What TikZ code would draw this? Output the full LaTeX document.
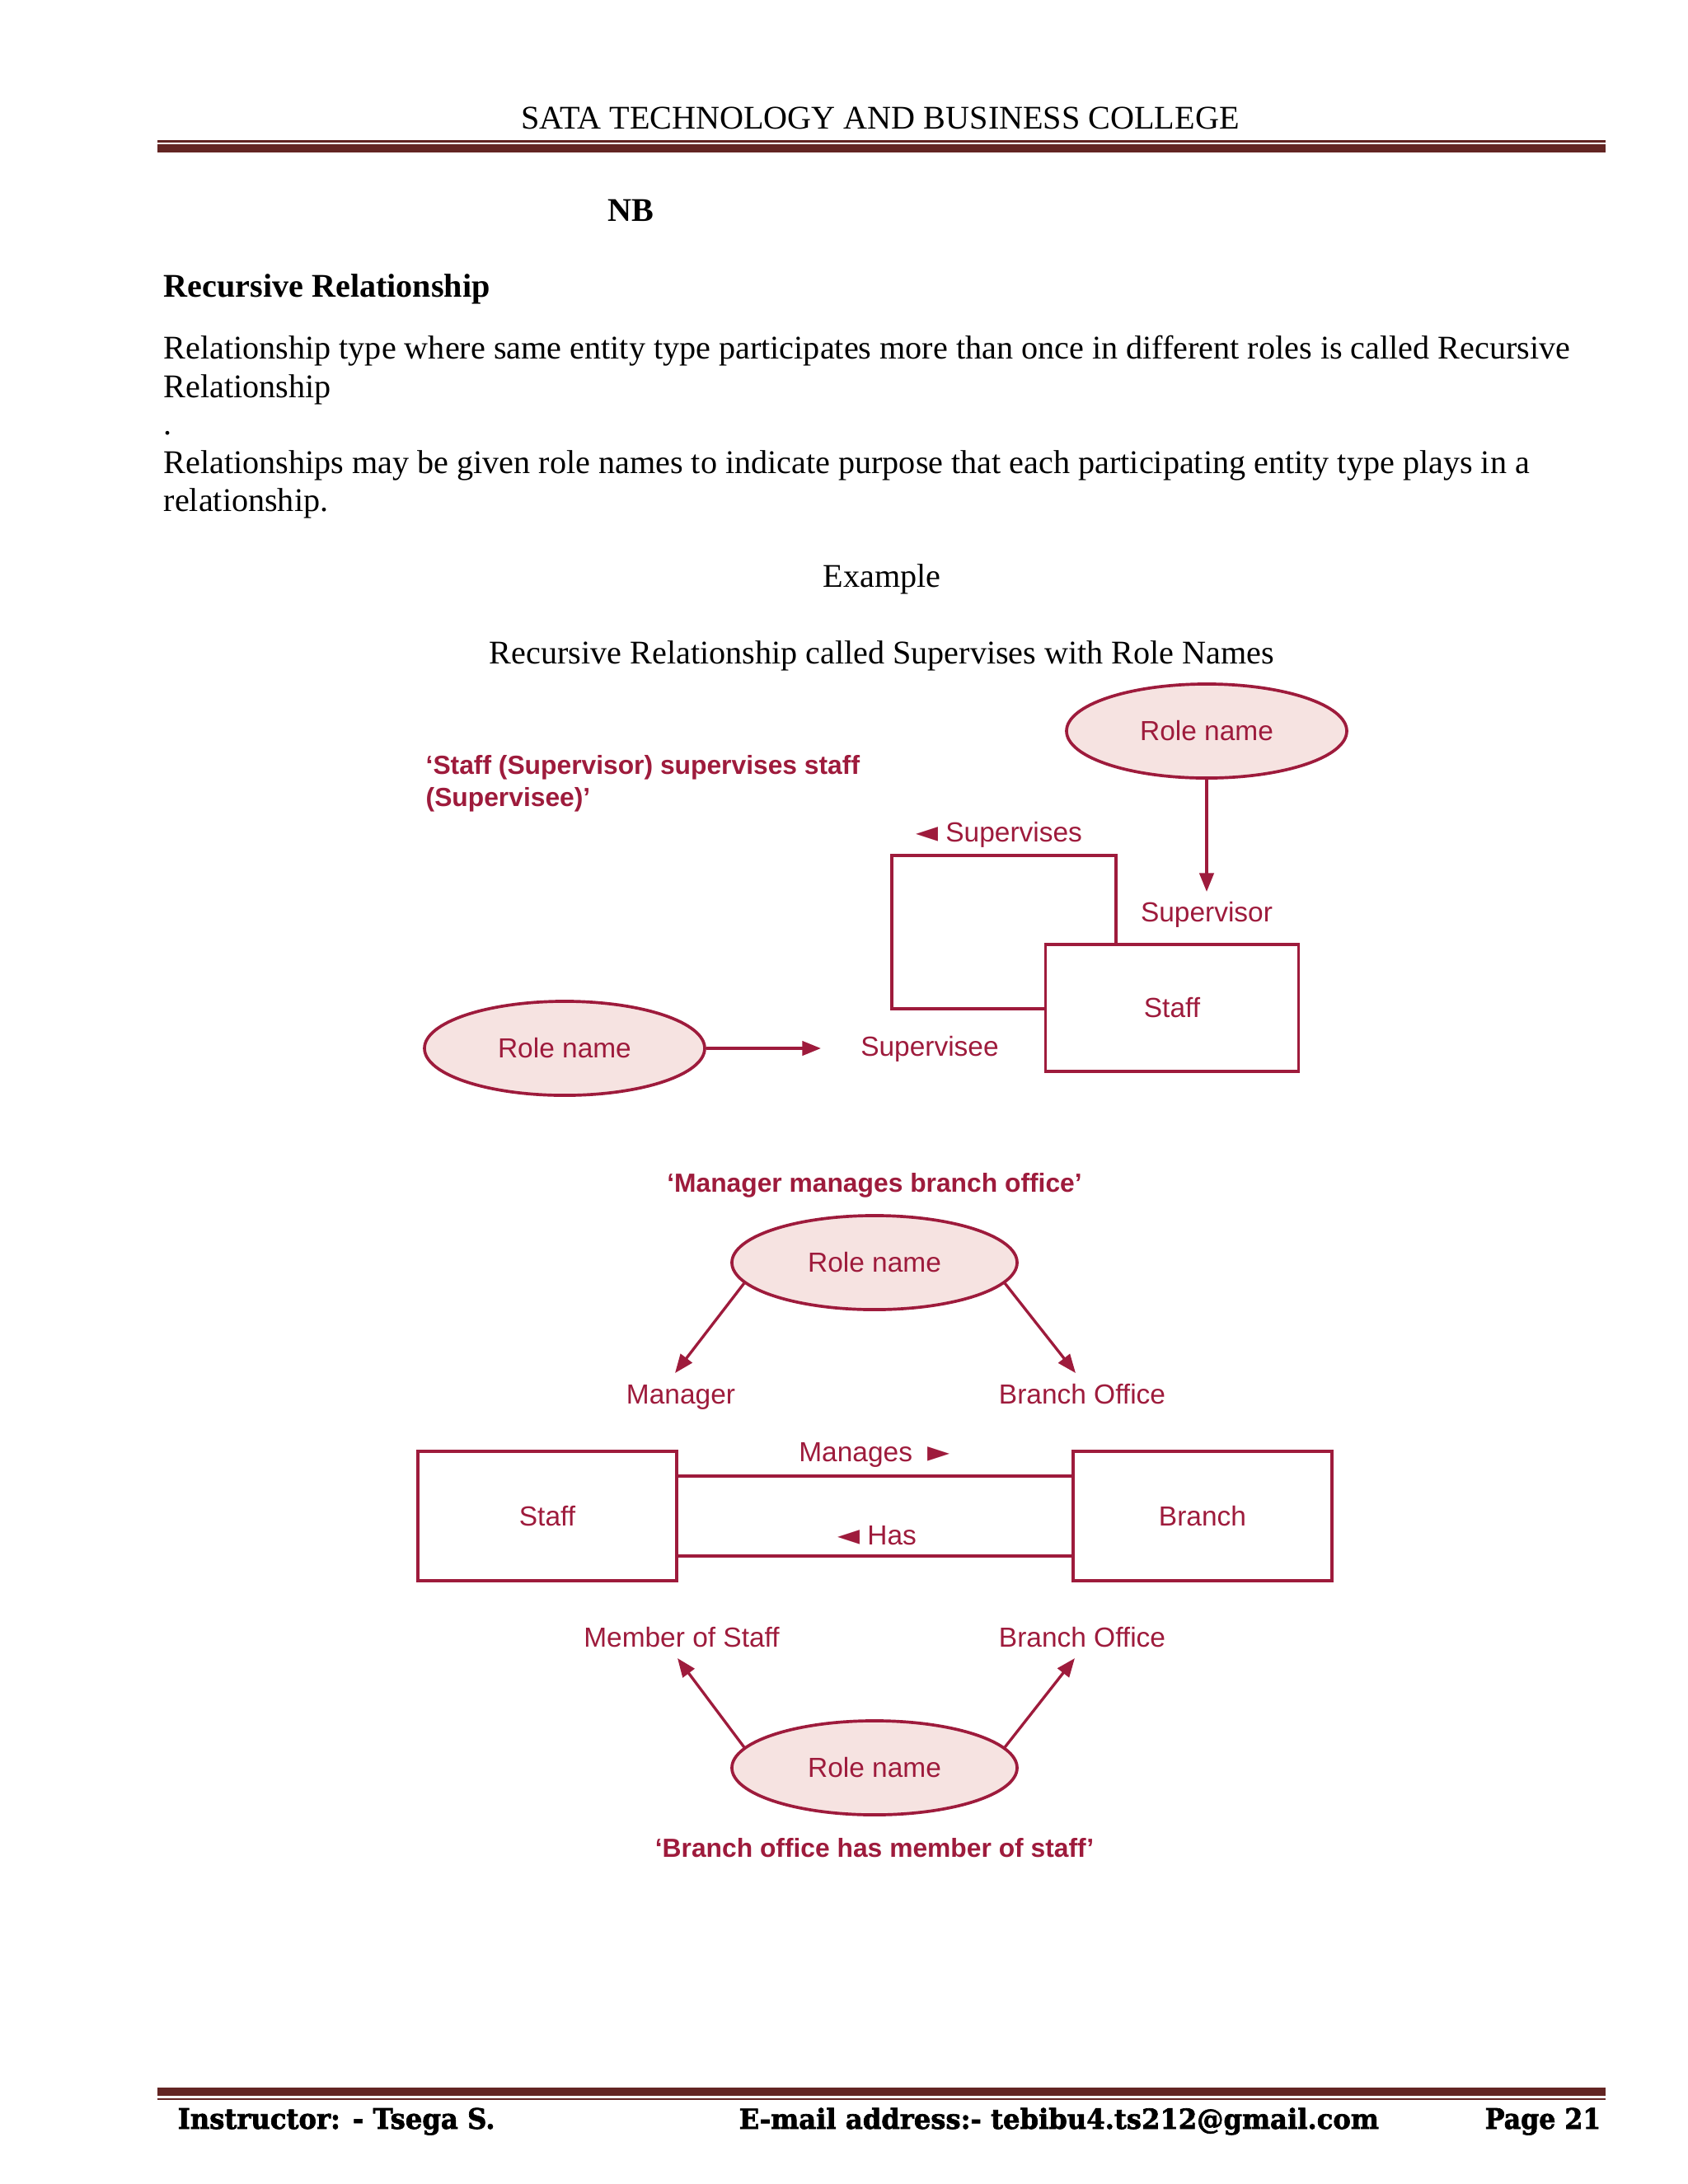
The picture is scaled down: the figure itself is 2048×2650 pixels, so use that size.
\documentclass[tikz,border=0pt]{standalone}
\usepackage{fontspec}
\setmainfont{Liberation Serif}
\newfontfamily\dsans{Liberation Sans}
\newfontfamily\dvs{DejaVu Sans}
\newfontfamily\footfont{DejaVu Serif}[FakeBold=2]
\usetikzlibrary{shapes.geometric,arrows.meta}
\definecolor{crim}{HTML}{9E1B3C}
\definecolor{rolefill}{HTML}{F6E3E1}
\definecolor{rulec}{HTML}{632523}
\newcommand{\lt}{{\dvs\fontsize{10.5}{12}\selectfont ◄}}
\newcommand{\rt}{{\dvs\fontsize{10.5}{12}\selectfont ►}}
\begin{document}
\begin{tikzpicture}[x=0.29883pt,y=-0.29883pt,
  body/.style={inner sep=0,anchor=base west,font=\fontsize{12}{14}\selectfont},
  bodyc/.style={inner sep=0,anchor=base,font=\fontsize{12}{14}\selectfont},
  rolename/.style={ellipse,draw=crim,fill=rolefill,line width=1.1pt,minimum width=101.6pt,minimum height=34.1pt,inner sep=0,font=\dsans\fontsize{10}{12}\selectfont,text=crim},
  entity/.style={rectangle,draw=crim,line width=1pt,inner sep=0,font=\dsans\fontsize{10}{12}\selectfont,text=crim},
  lab/.style={inner sep=0,anchor=base,font=\dsans\fontsize{10}{12}\selectfont,text=crim},
  capt/.style={inner sep=0,font=\dsans\bfseries\fontsize{9.5}{12}\selectfont,text=crim},
  arr/.style={draw=crim,line width=1pt,-{Triangle[length=6.8pt,width=5.2pt]}},
  relline/.style={draw=crim,line width=1pt},
  foot/.style={inner sep=0,font=\footfont\bfseries}
]
\useasboundingbox (0,0) rectangle (2048,2650);
\fill[white] (0,0) rectangle (2048,2650);

% header
\node[bodyc] (hdr) at (1068,156) {SATA TECHNOLOGY AND BUSINESS COLLEGE};
\fill[rulec] (191,170) rectangle (1948,172.5);
\fill[rulec] (191,175) rectangle (1948,185);

% body text
\node[bodyc,font=\bfseries\fontsize{12}{14}\selectfont] (nb) at (765,268) {NB};
\node[body,font=\bfseries\fontsize{12}{14}\selectfont] (title) at (198,360) {Recursive Relationship};
\node[body] (p1) at (198,435) {Relationship type where same entity type participates more than once in different roles is called Recursive};
\node[body] (p2) at (198,482) {Relationship};
\node[body] (p3) at (198,527) {.};
\node[body] (p4) at (198,574) {Relationships may be given role names to indicate purpose that each participating entity type plays in a};
\node[body] (p5) at (198,620) {relationship.};
\node[bodyc] (ex) at (1070,712) {Example};
\node[bodyc] (cap0) at (1070,805) {Recursive Relationship called Supervises with Role Names};

% ---------- diagram 1 ----------
\node[capt,anchor=base west] (c1a) at (516,939) {‘Staff (Supervisor) supervises staff};
\node[capt,anchor=base west] (c1b) at (516,978) {(Supervisee)’};
\node[rolename] (e1) at (1464,887) {Role name};
\coordinate (supTip) at (1464,1082);
\draw[arr] (e1.south) -- (supTip);
\node[lab] (supvr) at (1464,1118) {Supervisor};
\node[entity,minimum width=91.7pt,minimum height=46pt] (st1) at (1422,1223) {Staff};
\node[lab] (supvs) at (1212,1021) {\lt\ Supervises};
\coordinate (lr) at (1354,1038);
\coordinate (ll) at (1082,1224);
\draw[relline] (st1.north -| lr) -- (lr) -| (ll) -- (st1.west |- ll);
\node[rolename] (e3) at (685,1272) {Role name};
\coordinate (sveTip) at (996,1272);
\draw[arr] (e3.east) -- (sveTip);
\node[lab] (svee) at (1128,1281) {Supervisee};

% ---------- diagram 2 ----------
\node[capt,anchor=base] (c2) at (1061,1446) {‘Manager manages branch office’};
\node[rolename,minimum width=103.4pt] (e2) at (1061,1532) {Role name};
\coordinate (mgrTip) at (819,1666);
\coordinate (boTip) at (1305,1666);
\draw[arr] (e2.189) -- (mgrTip);
\draw[arr] (e2.351) -- (boTip);
\node[lab] (mgr) at (826,1703) {Manager};
\node[lab] (bo1) at (1313,1703) {Branch Office};

\node[entity,minimum width=93.8pt,minimum height=46.9pt] (st2) at (664,1839.5) {Staff};
\node[entity,minimum width=93.8pt,minimum height=46.9pt] (br) at (1459,1839.5) {Branch};
\coordinate (ya) at (0,1791);
\coordinate (yb) at (0,1888);
\draw[relline] (st2.east |- ya) -- (br.west |- ya);
\draw[relline] (st2.east |- yb) -- (br.west |- yb);
\node[lab] (mgs) at (1061,1773) {Manages\ \ \rt};
\node[lab] (has) at (1064,1874) {\lt\ Has};

\node[lab] (mos) at (827,1998) {Member of Staff};
\node[lab] (bo2) at (1313,1998) {Branch Office};
\node[rolename,minimum width=103.4pt] (e4) at (1061,2145) {Role name};
\coordinate (mosTip) at (822,2012);
\coordinate (bo2Tip) at (1304,2012);
\draw[arr] (e4.171) -- (mosTip);
\draw[arr] (e4.9) -- (bo2Tip);
\node[capt,anchor=base] (c3) at (1061,2253) {‘Branch office has member of staff’};

% footer
\fill[rulec] (191,2533) rectangle (1948,2543);
\fill[rulec] (191,2546) rectangle (1948,2548);
\node[foot,anchor=base west] (f1) at (215,2583) {\resizebox{115pt}{7.6pt}{Instructor: - Tsega S.}};
\node[foot,anchor=base west] (f2) at (896,2583) {\resizebox{232pt}{7.6pt}{E-mail address:- tebibu4.ts212@gmail.com}};
\node[foot,anchor=base east] (f3) at (1943,2583) {\resizebox{42pt}{7.6pt}{Page 21}};
\end{tikzpicture}
\end{document}
